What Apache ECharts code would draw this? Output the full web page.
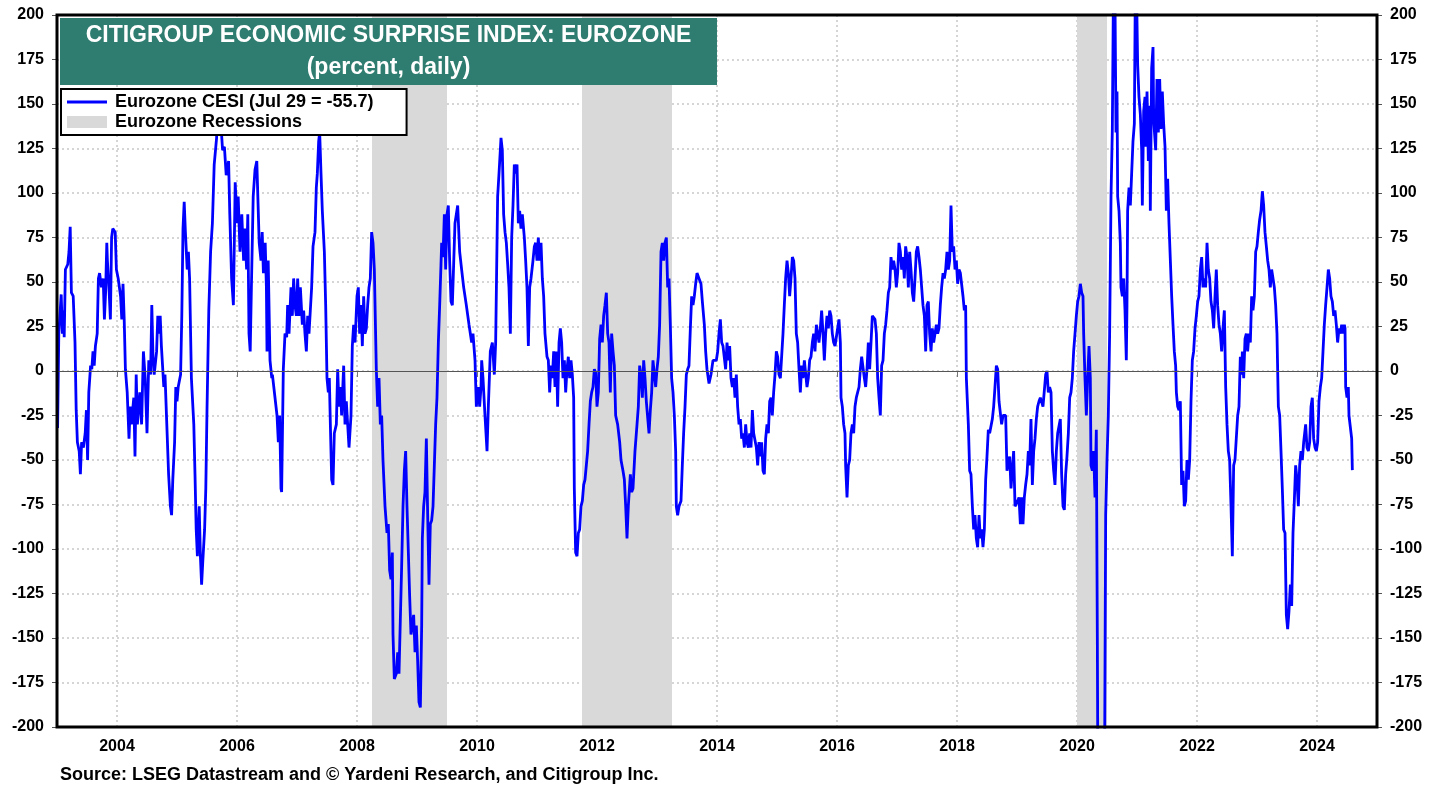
<!DOCTYPE html>
<html>
<head>
<meta charset="utf-8">
<title>Citigroup Economic Surprise Index: Eurozone</title>
<script src="https://cdn.jsdelivr.net/npm/echarts@6/dist/echarts.min.js"></script>
<style>
  html, body { margin: 0; padding: 0; background: #fff; }
  #chart { width: 1442px; height: 790px; }
</style>
</head>
<body>
<div id="chart"></div>
<script>
// x values are decimal years
const yearTicks = [2004, 2006, 2008, 2010, 2012, 2014, 2016, 2018, 2020, 2022, 2024];
const recessions = [[2008.25, 2009.5], [2011.75, 2013.25], [2020.0, 2020.5]];
const cesiName = 'Eurozone CESI (Jul 29 = -55.7)';
const recessionName = 'Eurozone Recessions';

// [year, index]
const cesi = [
  [2003.01,-32],[2003.03,21],[2003.07,43],[2003.09,21],[2003.11,34],[2003.12,19],[2003.14,57],[2003.18,60],
  [2003.20,67],[2003.22,81],[2003.24,44],[2003.27,42],[2003.30,16],[2003.32,-22],[2003.34,-40],[2003.37,-45],
  [2003.39,-58],[2003.41,-40],[2003.44,-43],[2003.47,-35],[2003.49,-22],[2003.51,-50],[2003.53,-12],[2003.56,3],
  [2003.58,1],[2003.60,11],[2003.62,3],[2003.64,14],[2003.67,21],[2003.69,52],[2003.71,55],[2003.74,47],
  [2003.77,52],[2003.79,29],[2003.81,44],[2003.83,72],[2003.84,62],[2003.87,44],[2003.89,29],[2003.91,75],
  [2003.93,80],[2003.97,78],[2003.99,57],[2004.02,52],[2004.06,42],[2004.08,29],[2004.10,49],[2004.12,29],
  [2004.14,1],[2004.17,-12],[2004.20,-38],[2004.22,-20],[2004.24,-30],[2004.28,-15],[2004.30,-48],[2004.32,-2],
  [2004.34,-30],[2004.38,-12],[2004.41,-30],[2004.44,11],[2004.47,-4],[2004.50,-35],[2004.53,6],[2004.56,-2],
  [2004.58,37],[2004.60,8],[2004.62,-2],[2004.66,11],[2004.68,31],[2004.70,21],[2004.72,31],[2004.74,14],
  [2004.78,-9],[2004.80,-2],[2004.83,-30],[2004.86,-58],[2004.89,-76],[2004.91,-81],[2004.93,-61],[2004.96,-40],
  [2004.98,-9],[2005.00,-17],[2005.02,-9],[2005.06,-2],[2005.08,31],[2005.10,80],[2005.12,95],[2005.14,78],
  [2005.17,57],[2005.19,67],[2005.21,52],[2005.24,-4],[2005.28,-30],[2005.30,-58],[2005.32,-89],[2005.34,-104],
  [2005.37,-76],[2005.39,-104],[2005.41,-120],[2005.43,-107],[2005.46,-89],[2005.48,-66],[2005.50,-22],[2005.53,34],
  [2005.56,67],[2005.59,83],[2005.62,116],[2005.66,131],[2005.69,159],[2005.72,145],[2005.76,124],[2005.79,126],
  [2005.82,110],[2005.86,118],[2005.88,88],[2005.91,52],[2005.94,37],[2005.97,106],[2006.00,83],[2006.02,98],
  [2006.05,67],[2006.08,88],[2006.11,62],[2006.13,80],[2006.16,57],[2006.18,88],[2006.20,21],[2006.22,11],
  [2006.24,47],[2006.27,98],[2006.30,113],[2006.33,118],[2006.37,72],[2006.40,62],[2006.42,78],[2006.44,55],
  [2006.47,72],[2006.49,47],[2006.50,11],[2006.52,62],[2006.55,6],[2006.58,-4],[2006.59,-2],
  [2006.667,-25],[2006.689,-40],[2006.711,-25],[2006.733,-66],[2006.744,-68],[2006.772,1],[2006.800,21],[2006.828,19],
  [2006.844,37],[2006.867,21],[2006.900,47],[2006.922,31],[2006.944,52],[2006.967,37],[2006.989,31],[2007.011,52],
  [2007.033,31],[2007.056,47],[2007.089,26],[2007.111,34],[2007.133,21],[2007.156,11],[2007.178,31],[2007.200,21],
  [2007.222,34],[2007.244,47],[2007.267,70],[2007.300,78],[2007.322,103],[2007.339,111],[2007.361,129],[2007.378,134],
  [2007.400,111],[2007.422,90],[2007.456,67],[2007.478,37],[2007.500,-4],[2007.522,-12],[2007.539,-4],[2007.556,-30],
  [2007.578,-61],[2007.600,-64],[2007.622,-35],[2007.656,-30],[2007.678,1],[2007.700,-20],[2007.722,-9],[2007.744,-25],
  [2007.778,3],[2007.800,-30],[2007.822,-17],[2007.867,-43],[2007.900,-25],[2007.922,14],[2007.944,26],[2007.967,16],
  [2008.000,42],[2008.022,47],[2008.044,21],[2008.067,37],[2008.089,14],[2008.111,42],[2008.133,21],[2008.156,24],
  [2008.178,37],[2008.200,47],[2008.222,52],[2008.244,78],[2008.267,72],[2008.289,57],[2008.322,1],[2008.344,-20],
  [2008.367,-4],[2008.389,-30],[2008.411,-25],[2008.433,-50],[2008.467,-76],[2008.500,-91],[2008.522,-86],[2008.544,-112],
  [2008.567,-117],[2008.589,-102],[2008.600,-148],[2008.622,-173],[2008.656,-170],[2008.678,-158],[2008.700,-170],[2008.722,-140],
  [2008.744,-110],[2008.767,-76],[2008.789,-56],[2008.811,-45],[2008.833,-76],[2008.856,-102],[2008.878,-127],[2008.900,-148],
  [2008.922,-148],[2008.944,-137],[2008.967,-158],[2008.989,-143],[2009.011,-163],[2009.033,-186],[2009.056,-189],[2009.078,-143],
  [2009.089,-94],[2009.111,-76],[2009.133,-68],[2009.156,-38],[2009.178,-81],[2009.200,-120],[2009.222,-86],[2009.244,-84],
  [2009.267,-76],[2009.289,-53],[2009.311,-30],[2009.333,-15],[2009.356,16],[2009.378,37],[2009.400,60],[2009.411,72],
  [2009.433,64],[2009.456,88],[2009.478,57],[2009.500,88],[2009.522,93],[2009.544,62],[2009.567,39],[2009.589,37],
  [2009.611,60],[2009.633,83],[2009.678,93],[2009.711,67],[2009.744,57],[2009.778,47],[2009.822,37],[2009.867,26],
  [2009.911,16],[2009.933,21],[2009.967,6],[2009.989,-20],[2010.022,-9],[2010.044,-20],[2010.067,-9],[2010.078,6],
  [2010.100,-4],[2010.133,-25],[2010.167,-45],[2010.189,-20],[2010.222,11],[2010.256,16],[2010.289,-2],[2010.311,16],
  [2010.344,98],[2010.367,111],[2010.400,131],[2010.422,124],[2010.444,88],[2010.467,78],[2010.489,72],[2010.511,60],
  [2010.533,47],[2010.556,21],[2010.578,75],[2010.600,93],[2010.622,116],[2010.644,111],[2010.667,116],[2010.689,83],
  [2010.711,90],[2010.733,80],[2010.756,88],[2010.789,75],[2010.811,62],[2010.833,47],[2010.856,14],[2010.878,47],
  [2010.900,52],[2010.933,62],[2010.956,70],[2010.978,72],[2011.000,62],[2011.022,75],[2011.044,62],[2011.067,72],
  [2011.089,52],[2011.111,42],[2011.133,21],[2011.167,8],[2011.189,6],[2011.211,-12],[2011.233,3],[2011.256,-4],
  [2011.278,11],[2011.300,-9],[2011.322,11],[2011.344,-20],[2011.367,16],[2011.389,24],[2011.411,16],[2011.433,-4],
  [2011.456,6],[2011.478,-12],[2011.500,1],[2011.522,8],[2011.544,-4],[2011.567,6],[2011.589,-2],[2011.611,-15],
  [2011.622,-66],[2011.644,-102],[2011.667,-104],[2011.689,-91],[2011.711,-89],[2011.733,-76],[2011.756,-73],[2011.778,-64],
  [2011.800,-61],[2011.822,-53],[2011.844,-45],[2011.867,-30],[2011.889,-17],[2011.911,-12],[2011.933,-9],[2011.956,1],
  [2011.978,-1],[2012.000,-20],[2012.022,-12],[2012.044,18],[2012.067,26],[2012.089,16],[2012.111,31],[2012.133,37],
  [2012.156,44],[2012.178,21],[2012.200,16],[2012.222,-12],[2012.244,21],[2012.267,11],[2012.289,3],[2012.311,-25],
  [2012.344,-30],[2012.378,-40],[2012.400,-50],[2012.433,-56],[2012.456,-61],[2012.478,-76],[2012.500,-94],[2012.522,-76],
  [2012.556,-58],[2012.578,-68],[2012.600,-66],[2012.633,-45],[2012.667,-30],[2012.689,-20],[2012.711,3],[2012.733,-2],
  [2012.756,-15],[2012.778,6],[2012.800,-4],[2012.822,-17],[2012.867,-35],[2012.889,-22],[2012.911,-12],[2012.933,6],
  [2012.956,-2],[2012.978,-9],[2013.000,1],[2013.022,8],[2013.044,26],[2013.067,67],[2013.089,72],[2013.111,62],
  [2013.133,72],[2013.156,75],[2013.178,47],[2013.200,52],[2013.222,26],[2013.244,-4],[2013.267,-12],[2013.289,-25],
  [2013.311,-45],[2013.322,-76],[2013.344,-81],[2013.367,-76],[2013.400,-73],[2013.422,-53],[2013.444,-35],[2013.467,-20],
  [2013.489,-2],[2013.511,1],[2013.533,3],[2013.556,24],[2013.578,42],[2013.600,37],[2013.622,42],[2013.644,49],
  [2013.667,55],[2013.700,52],[2013.733,49],[2013.756,39],[2013.789,26],[2013.811,11],[2013.833,1],[2013.867,-7],
  [2013.900,-2],[2013.933,6],
  [2013.989,6],[2014.011,11],[2014.033,21],[2014.056,29],[2014.078,16],[2014.100,14],[2014.144,1],[2014.167,16],
  [2014.189,6],[2014.211,14],[2014.233,-4],[2014.256,-9],[2014.278,-4],[2014.300,-15],[2014.322,-2],[2014.344,-20],
  [2014.367,-30],[2014.389,-27],[2014.411,-38],[2014.433,-35],[2014.456,-43],[2014.478,-30],[2014.500,-40],[2014.522,-43],
  [2014.544,-35],[2014.567,-43],[2014.589,-22],[2014.611,-35],[2014.656,-43],[2014.678,-53],[2014.700,-40],[2014.722,-48],
  [2014.744,-40],[2014.767,-56],[2014.789,-58],[2014.811,-38],[2014.833,-30],[2014.856,-35],[2014.878,-17],[2014.900,-15],
  [2014.922,-25],[2014.944,-12],[2014.967,-2],[2014.989,11],[2015.011,8],[2015.033,-2],[2015.056,-4],[2015.100,21],
  [2015.122,37],[2015.144,52],[2015.167,62],[2015.189,55],[2015.211,42],[2015.233,52],[2015.256,64],[2015.278,62],
  [2015.300,52],[2015.322,21],[2015.344,16],[2015.367,1],[2015.389,-12],[2015.411,3],[2015.433,-4],[2015.456,6],
  [2015.500,-9],[2015.522,-4],[2015.544,6],[2015.567,8],[2015.589,16],[2015.611,21],[2015.633,11],[2015.656,26],
  [2015.678,21],[2015.700,16],[2015.722,24],[2015.744,34],[2015.767,21],[2015.789,6],[2015.811,21],[2015.833,31],
  [2015.856,24],[2015.878,34],[2015.900,31],[2015.922,21],[2015.944,16],[2015.967,14],[2016.011,24],[2016.033,29],
  [2016.056,16],[2016.067,-15],[2016.089,-20],[2016.111,-30],[2016.133,-35],[2016.144,-53],[2016.167,-71],[2016.189,-53],
  [2016.211,-50],[2016.233,-35],[2016.256,-30],[2016.278,-35],[2016.300,-20],[2016.322,-15],[2016.344,-12],[2016.367,-9],
  [2016.389,1],[2016.411,8],[2016.456,-4],[2016.478,-9],[2016.500,1],[2016.522,16],[2016.544,1],[2016.567,16],
  [2016.589,31],[2016.633,29],[2016.656,21],[2016.678,-4],[2016.700,-15],[2016.722,-25],[2016.744,3],[2016.767,6],
  [2016.789,21],[2016.811,26],[2016.833,34],[2016.856,44],[2016.878,47],[2016.900,64],[2016.922,57],[2016.944,62],
  [2016.967,57],[2016.989,47],[2017.011,55],[2017.033,72],[2017.056,67],[2017.078,57],[2017.100,64],[2017.122,52],
  [2017.144,70],[2017.167,64],[2017.189,47],[2017.211,67],[2017.233,57],[2017.256,44],[2017.278,39],[2017.300,52],
  [2017.322,67],[2017.344,70],[2017.367,64],[2017.389,57],[2017.411,47],[2017.433,37],[2017.456,31],[2017.478,11],
  [2017.500,37],[2017.522,39],[2017.544,21],[2017.567,11],[2017.589,24],[2017.611,16],
  [2017.656,26],[2017.678,21],[2017.700,24],[2017.722,37],[2017.744,47],[2017.767,55],[2017.789,52],[2017.811,57],
  [2017.833,67],[2017.856,57],[2017.878,62],[2017.900,93],[2017.922,67],[2017.944,70],[2017.967,57],[2017.989,62],
  [2018.011,49],[2018.033,57],[2018.056,55],[2018.100,42],[2018.122,34],[2018.144,37],[2018.156,-4],[2018.189,-30],
  [2018.211,-56],[2018.233,-58],[2018.256,-76],[2018.278,-89],[2018.300,-81],[2018.322,-94],[2018.344,-99],[2018.367,-81],
  [2018.389,-94],[2018.411,-89],[2018.433,-99],[2018.456,-89],[2018.478,-61],[2018.500,-48],[2018.522,-33],[2018.544,-35],
  [2018.589,-27],[2018.611,-20],[2018.633,-9],[2018.656,3],[2018.678,1],[2018.700,-17],[2018.744,-30],[2018.767,-25],
  [2018.811,-25],[2018.833,-56],[2018.878,-48],[2018.900,-66],[2018.944,-45],[2018.967,-76],[2019.011,-73],[2019.033,-71],
  [2019.056,-86],[2019.078,-71],[2019.100,-86],[2019.122,-71],[2019.144,-64],[2019.167,-58],[2019.189,-45],[2019.211,-53],
  [2019.233,-27],[2019.256,-64],[2019.278,-45],[2019.300,-38],[2019.322,-27],[2019.344,-20],[2019.367,-17],[2019.389,-15],
  [2019.433,-20],[2019.478,-2],[2019.500,0],[2019.522,-12],[2019.544,-9],[2019.567,-12],[2019.589,-45],[2019.611,-56],
  [2019.633,-64],[2019.656,-45],[2019.678,-35],[2019.722,-27],[2019.744,-58],[2019.767,-76],[2019.789,-78],[2019.811,-58],
  [2019.833,-48],[2019.856,-35],[2019.878,-15],[2019.900,-12],[2019.922,-4],[2019.944,11],[2019.967,21],[2019.989,31],
  [2020.011,39],[2020.033,42],[2020.056,49],[2020.078,44],[2020.100,42],[2020.111,21],[2020.133,-4],[2020.156,-25],
  [2020.178,-4],[2020.200,14],[2020.222,-4],[2020.233,-53],[2020.256,-56],[2020.278,-45],[2020.300,-71],[2020.322,-33],
  [2020.339,-150],[2020.356,-300],[2020.411,-330],[2020.456,-250],[2020.478,-81],[2020.500,-50],[2020.522,-25],[2020.544,21],
  [2020.567,98],[2020.589,136],[2020.611,230],[2020.633,210],[2020.650,134],[2020.667,157],[2020.678,98],[2020.700,90],
  [2020.722,72],[2020.733,47],[2020.756,42],[2020.778,52],[2020.800,34],[2020.822,6],[2020.833,37],[2020.844,90],
  [2020.867,103],[2020.889,93],[2020.911,111],[2020.933,129],[2020.956,139],[2020.972,215],[2020.994,210],[2021.011,172],
  [2021.033,154],[2021.056,144],[2021.078,124],[2021.089,93],[2021.111,146],[2021.133,154],[2021.144,126],[2021.167,157],
  [2021.189,118],[2021.211,149],[2021.222,90],[2021.244,170],[2021.267,182],[2021.278,141],
  [2021.311,124],[2021.333,164],[2021.356,134],[2021.378,164],[2021.400,136],[2021.422,157],[2021.444,139],[2021.467,126],
  [2021.489,90],[2021.511,108],[2021.533,83],[2021.556,62],[2021.578,42],[2021.600,26],[2021.622,11],[2021.644,3],
  [2021.656,-12],[2021.678,-20],[2021.700,-22],[2021.722,-17],[2021.744,-64],[2021.767,-56],[2021.789,-76],[2021.811,-73],
  [2021.833,-50],[2021.856,-61],[2021.878,-50],[2021.900,-17],[2021.922,6],[2021.944,11],[2021.967,24],[2021.989,31],
  [2022.011,39],[2022.033,42],[2022.056,57],[2022.078,64],[2022.100,47],[2022.122,52],[2022.144,47],[2022.167,72],
  [2022.189,57],[2022.211,52],[2022.233,39],[2022.256,34],[2022.278,24],[2022.300,42],[2022.322,57],[2022.344,37],
  [2022.367,26],[2022.389,21],[2022.411,11],[2022.433,24],[2022.456,34],[2022.478,-9],[2022.500,-30],[2022.522,-45],
  [2022.544,-50],[2022.567,-76],[2022.589,-104],[2022.611,-53],[2022.633,-50],[2022.678,-25],[2022.700,-20],[2022.722,8],
  [2022.744,-2],[2022.756,11],[2022.778,-4],[2022.800,18],[2022.822,21],[2022.844,11],[2022.867,21],[2022.889,16],
  [2022.911,42],[2022.933,34],[2022.956,42],[2022.978,67],[2023.000,70],[2023.022,78],[2023.044,85],[2023.067,90],
  [2023.089,101],[2023.111,93],[2023.133,78],[2023.156,70],[2023.178,62],[2023.200,57],[2023.222,47],[2023.244,57],
  [2023.267,52],[2023.289,47],[2023.311,37],[2023.333,21],[2023.356,-20],[2023.378,-25],[2023.400,-45],[2023.422,-66],
  [2023.444,-89],[2023.467,-91],[2023.489,-137],[2023.511,-145],[2023.533,-135],[2023.556,-120],[2023.578,-132],[2023.600,-91],
  [2023.622,-73],[2023.644,-53],[2023.667,-61],[2023.689,-76],[2023.711,-53],[2023.733,-45],[2023.756,-50],[2023.778,-40],
  [2023.811,-30],[2023.833,-43],[2023.856,-45],[2023.878,-40],[2023.900,-20],[2023.922,-15],[2023.944,-38],[2023.967,-43],
  [2023.989,-45],[2024.011,-40],[2024.033,-17],[2024.056,-9],[2024.078,-4],[2024.100,11],[2024.122,26],[2024.144,37],
  [2024.167,47],[2024.189,57],[2024.211,52],[2024.233,42],[2024.256,39],[2024.278,31],[2024.300,34],[2024.322,26],
  [2024.344,16],[2024.367,24],[2024.389,21],[2024.411,26],[2024.433,21],[2024.456,26],[2024.467,24],[2024.478,-9],
  [2024.500,-15],[2024.522,-9],[2024.533,-25],[2024.556,-25],[2024.578,-38],[2024.589,-55.7]
];

const font = '"Liberation Sans", Arial, sans-serif';
const chart = echarts.init(document.getElementById('chart'));

// plot box in pixels, also used for the frame drawn on top
const plot = { left: 57, top: 15, right: 1377, bottom: 727 };

const yAxisCommon = {
  type: 'value',
  min: -200,
  max: 200,
  interval: 25,
  axisLine: { show: false },
  axisTick: { show: true, length: 5, lineStyle: { color: '#555', width: 1 } },
  axisLabel: { margin: 13, fontSize: 16, fontWeight: 'bold', color: '#000', fontFamily: font }
};

chart.setOption({
  animation: false,
  backgroundColor: '#fff',
  grid: {
    left: plot.left, right: 1442 - plot.right, top: plot.top, bottom: 790 - plot.bottom,
    show: false
  },
  xAxis: {
    type: 'value',
    min: 2003,
    max: 2025,
    axisLine: { show: false },
    axisTick: { show: true, customValues: yearTicks, length: 6, lineStyle: { color: '#777', width: 1 } },
    axisLabel: {
      customValues: yearTicks, margin: 12, fontSize: 16, fontWeight: 'bold', color: '#000', fontFamily: font,
      formatter: v => String(v)
    },
    splitLine: { show: true, lineStyle: { color: '#c8c8c8', width: 1.5, type: [2, 3] } }
  },
  yAxis: [
    Object.assign({}, yAxisCommon, {
      position: 'left',
      splitLine: { show: true, lineStyle: { color: '#c8c8c8', width: 1.5, type: [2, 3] } }
    }),
    Object.assign({}, yAxisCommon, { position: 'right', splitLine: { show: false } })
  ],
  legend: {
    orient: 'vertical',
    left: 61,
    top: 89,
    padding: [4, 33, 4, 6],
    itemWidth: 40,
    itemHeight: 12,
    itemGap: 2,
    selectedMode: false,
    backgroundColor: '#fff',
    borderColor: '#000',
    borderWidth: 2,
    textStyle: { fontSize: 18, fontWeight: 'bold', color: '#000', fontFamily: font, padding: [0, 0, 0, 3] },
    data: [
      { name: cesiName, icon: 'path://M0,0 H40 V3 H0 Z', itemStyle: { color: '#0000ff' } },
      { name: recessionName, icon: 'rect', itemStyle: { color: '#d9d9d9' } }
    ]
  },
  graphic: [
    {
      type: 'rect', z: 90, silent: true,
      shape: { x: plot.left, y: plot.top, width: plot.right - plot.left, height: plot.bottom - plot.top },
      style: { fill: null, stroke: '#000', lineWidth: 3 }
    },
    {
      type: 'rect', z: 100,
      shape: { x: 60, y: 18, width: 657, height: 67 },
      style: { fill: '#2e7d70' }
    },
    {
      type: 'text', z: 101,
      style: {
        x: 388.5, y: 36, text: 'CITIGROUP ECONOMIC SURPRISE INDEX: EUROZONE',
        textAlign: 'center', textVerticalAlign: 'middle', fill: '#fff',
        font: 'bold 23px ' + font
      }
    },
    {
      type: 'text', z: 101,
      style: {
        x: 388.5, y: 68, text: '(percent, daily)',
        textAlign: 'center', textVerticalAlign: 'middle', fill: '#fff',
        font: 'bold 23px ' + font
      }
    },
    {
      type: 'text', z: 101,
      style: {
        x: 60, y: 775, text: 'Source: LSEG Datastream and \u00a9 Yardeni Research, and Citigroup Inc.',
        textAlign: 'left', textVerticalAlign: 'middle', fill: '#000',
        font: 'bold 18px ' + font
      }
    }
  ],
  series: [
    {
      name: recessionName,
      type: 'line',
      data: [],
      z: 1,
      itemStyle: { color: '#d9d9d9' },
      markArea: {
        silent: true,
        itemStyle: { color: '#d9d9d9' },
        data: recessions.map(r => [{ xAxis: r[0] }, { xAxis: r[1] }])
      }
    },
    {
      name: cesiName,
      type: 'line',
      data: cesi,
      symbol: 'none',
      clip: true,
      z: 3,
      itemStyle: { color: '#0000ff' },
      lineStyle: { color: '#0000ff', width: 2.8 },
      markLine: {
        silent: true,
        symbol: 'none',
        label: { show: false },
        lineStyle: { color: '#555', width: 1, type: 'solid' },
        data: [{ yAxis: 0 }]
      }
    }
  ]
});
</script>
</body>
</html>
